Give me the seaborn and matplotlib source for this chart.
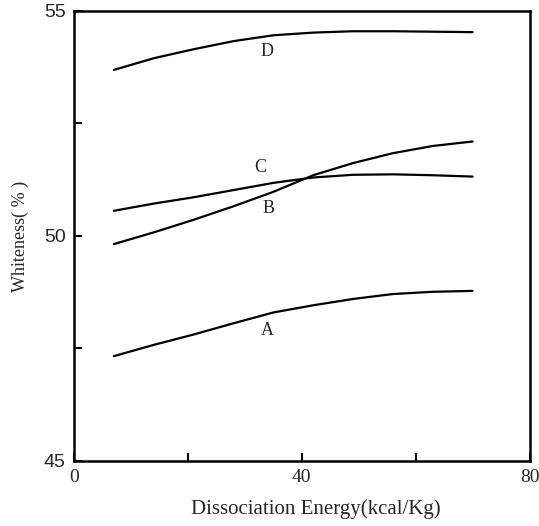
import matplotlib
matplotlib.use("Agg")
import matplotlib.pyplot as plt
import seaborn as sns
import pandas as pd

# Dissociation energy (kcal/Kg) at which whiteness was read
energy = [7, 14, 21, 28, 35, 42, 49, 56, 63, 70]

# Whiteness (%) for each pulp condition
white_a = [47.33, 47.58, 47.81, 48.06, 48.30, 48.46, 48.60, 48.71, 48.76, 48.78]
white_b = [49.82, 50.08, 50.36, 50.66, 50.98, 51.35, 51.62, 51.84, 52.00, 52.10]
white_c = [50.56, 50.72, 50.86, 51.02, 51.18, 51.30, 51.36, 51.37, 51.35, 51.32]
white_d = [53.69, 53.95, 54.15, 54.33, 54.46, 54.52, 54.55, 54.55, 54.54, 54.53]

curve_names = ["A", "B", "C", "D"]
# where each curve's letter sits (energy, whiteness)
label_x = [33.9, 34.2, 32.7, 33.9]
label_y = [47.91, 50.62, 51.53, 54.10]

x_ticks = [0, 20, 40, 60, 80]
x_ticklabels = ["0", "", "40", "", "80"]
y_ticks = [45, 47.5, 50, 52.5, 55]
y_ticklabels = ["45", "", "50", "", "55"]

df = pd.DataFrame({
    "energy": energy * 4,
    "whiteness": white_a + white_b + white_c + white_d,
    "curve": [n for n in curve_names for _ in energy],
})

sns.set_style("ticks")
plt.rcParams["font.family"] = ["Liberation Serif", "DejaVu Serif"]

fig = plt.figure(figsize=(5.39, 5.26), dpi=100)
ax = fig.add_axes([0.1373, 0.1236, 0.8451, 0.8555])

sns.lineplot(data=df, x="energy", y="whiteness", hue="curve",
             palette=["black"] * 4, linewidth=1.6, legend=False, ax=ax)

for name, lx, ly in zip(curve_names, label_x, label_y):
    ax.text(lx, ly, name, ha="center", va="center", fontsize=13,
            family=["Liberation Serif"])

ax.set_xlim(0, 80)
ax.set_ylim(45, 55)
ax.set_xticks(x_ticks)
ax.set_xticklabels(x_ticklabels, fontsize=14, family=["Liberation Serif"])
ax.set_yticks(y_ticks)
ax.set_yticklabels(y_ticklabels, fontsize=14, family=["Liberation Sans"])
ax.tick_params(direction="in", length=6, width=1.5, color="black", pad=6)

for side in ["left", "right", "top", "bottom"]:
    ax.spines[side].set_visible(True)
    ax.spines[side].set_linewidth(1.8)
    ax.spines[side].set_color("black")

ax.set_xlabel("Dissociation Energy(kcal/Kg)", fontsize=15)
ax.xaxis.set_label_coords(0.53, -0.085)
ax.set_ylabel("Whiteness( % )", fontsize=13)
ax.yaxis.set_label_coords(-0.098, 0.5)

fig.savefig("out.png", dpi=100, facecolor="white")
